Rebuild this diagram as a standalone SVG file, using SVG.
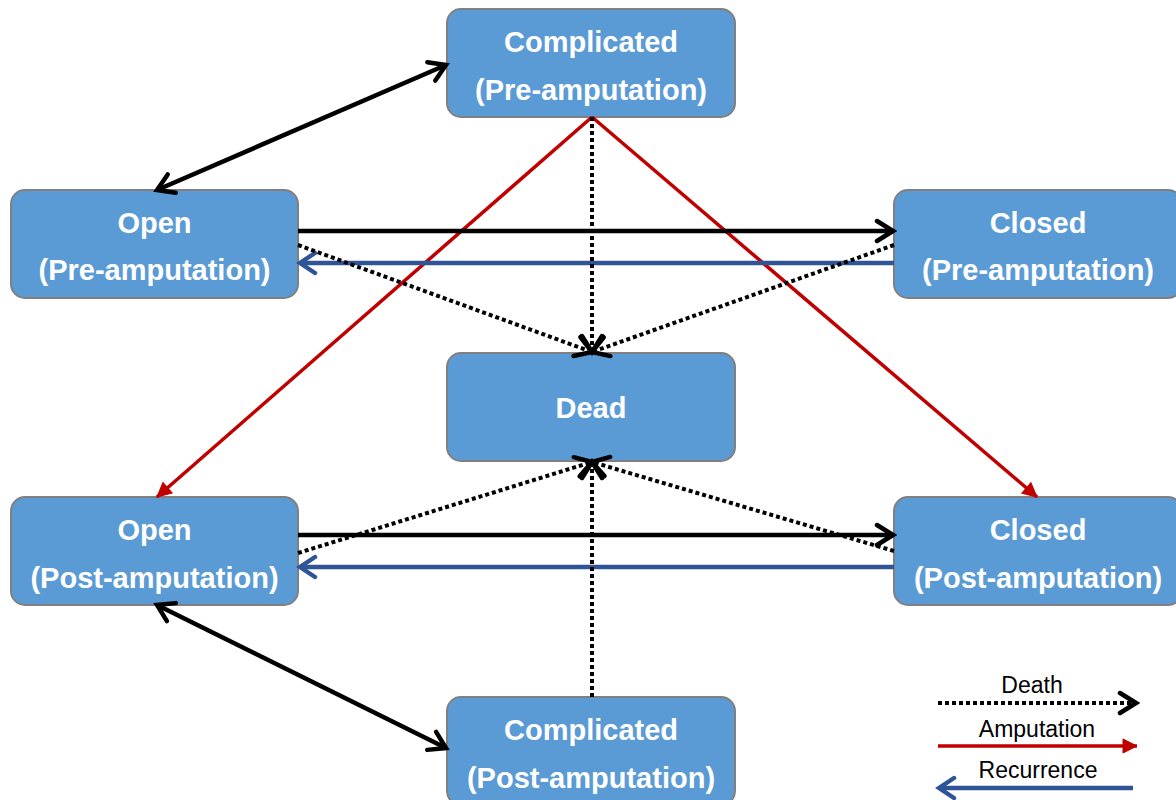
<svg xmlns="http://www.w3.org/2000/svg" width="1176" height="800" viewBox="0 0 1176 800">
  <defs>
    <style>
      .box { fill: #5B9BD5; stroke: #808080; stroke-width: 2; }
      .lbl { font-family: "Liberation Sans", Arial, sans-serif; font-weight: bold; font-size: 29px; fill: #ffffff; text-anchor: middle; }
      .leg { font-family: "Liberation Sans", Arial, sans-serif; font-size: 23px; fill: #000000; text-anchor: middle; }
      .solid { fill: none; stroke: #000000; stroke-width: 4.5; }
      .dot { fill: none; stroke: #000000; stroke-width: 4; stroke-dasharray: 4 3; }
      .amp { fill: none; stroke: #C00000; stroke-width: 3.5; }
      .rec { fill: none; stroke: #2F5597; stroke-width: 4.5; }
    </style>
    <marker id="ah-black" markerUnits="userSpaceOnUse" viewBox="0 0 26 26" markerWidth="26" markerHeight="26" refX="22" refY="13" orient="auto-start-reverse">
      <path d="M6,3 L22,13 L6,23" fill="none" stroke="#000000" stroke-width="4.5" stroke-dasharray="none" stroke-linecap="round"/>
    </marker>
    <marker id="ah-red" markerUnits="userSpaceOnUse" viewBox="0 0 26 26" markerWidth="26" markerHeight="26" refX="22" refY="13" orient="auto">
      <path d="M8,6 L22,13 L8,20 Z" fill="#C00000" stroke="#C00000" stroke-width="1"/>
    </marker>
    <marker id="ah-blue" markerUnits="userSpaceOnUse" viewBox="0 0 26 26" markerWidth="26" markerHeight="26" refX="22" refY="13" orient="auto">
      <path d="M7,3 L22,13 L7,23" fill="none" stroke="#2F5597" stroke-width="4.5" stroke-linecap="round"/>
    </marker>
  </defs>

  <rect width="1176" height="800" fill="#ffffff"/>

  <g id="node-complicated-pre">
    <rect class="box" x="447" y="9" width="288" height="108" rx="14"/>
    <text class="lbl" x="591" y="52">Complicated</text>
    <text class="lbl" x="591" y="100">(Pre-amputation)</text>
  </g>
  <g id="node-open-pre">
    <rect class="box" x="11" y="190" width="287" height="108" rx="14"/>
    <text class="lbl" x="154.5" y="233">Open</text>
    <text class="lbl" x="154.5" y="280">(Pre-amputation)</text>
  </g>
  <g id="node-closed-pre">
    <rect class="box" x="894" y="190" width="288" height="108" rx="14"/>
    <text class="lbl" x="1038" y="233">Closed</text>
    <text class="lbl" x="1038" y="280">(Pre-amputation)</text>
  </g>
  <g id="node-dead">
    <rect class="box" x="447" y="353" width="288" height="108" rx="14"/>
    <text class="lbl" x="591" y="418">Dead</text>
  </g>
  <g id="node-open-post">
    <rect class="box" x="11" y="497" width="287" height="108" rx="14"/>
    <text class="lbl" x="154.5" y="540">Open</text>
    <text class="lbl" x="154.5" y="588">(Post-amputation)</text>
  </g>
  <g id="node-closed-post">
    <rect class="box" x="894" y="497" width="288" height="108" rx="14"/>
    <text class="lbl" x="1038" y="540">Closed</text>
    <text class="lbl" x="1038" y="588">(Post-amputation)</text>
  </g>
  <g id="node-complicated-post">
    <rect class="box" x="447" y="697" width="288" height="108" rx="14"/>
    <text class="lbl" x="591" y="740">Complicated</text>
    <text class="lbl" x="591" y="788">(Post-amputation)</text>
  </g>

  <g id="connectors">
    <!-- amputation transitions -->
    <line class="amp" x1="592" y1="117" x2="157" y2="497" marker-end="url(#ah-red)"/>
    <line class="amp" x1="592" y1="117" x2="1037" y2="497" marker-end="url(#ah-red)"/>
    <!-- complicated <-> open -->
    <line class="solid" x1="157" y1="190" x2="446" y2="65" marker-start="url(#ah-black)" marker-end="url(#ah-black)"/>
    <line class="solid" x1="157" y1="605" x2="446" y2="748" marker-start="url(#ah-black)" marker-end="url(#ah-black)"/>
    <!-- open -> closed -->
    <line class="solid" x1="298" y1="231" x2="893" y2="231" marker-end="url(#ah-black)"/>
    <line class="solid" x1="298" y1="535" x2="893" y2="535" marker-end="url(#ah-black)"/>
    <!-- recurrence: closed -> open -->
    <line class="rec" x1="894" y1="263" x2="300" y2="263" marker-end="url(#ah-blue)"/>
    <line class="rec" x1="894" y1="567" x2="300" y2="567" marker-end="url(#ah-blue)"/>
    <!-- deaths -->
    <line class="dot" x1="592" y1="117" x2="592" y2="352" marker-end="url(#ah-black)"/>
    <line class="dot" x1="298" y1="245" x2="592" y2="352" marker-end="url(#ah-black)"/>
    <line class="dot" x1="894" y1="245" x2="592" y2="352" marker-end="url(#ah-black)"/>
    <line class="dot" x1="592" y1="697" x2="592" y2="462" marker-end="url(#ah-black)"/>
    <line class="dot" x1="298" y1="553" x2="592" y2="462" marker-end="url(#ah-black)"/>
    <line class="dot" x1="894" y1="551" x2="592" y2="462" marker-end="url(#ah-black)"/>
  </g>

  <g id="legend">
    <text class="leg" x="1032" y="693">Death</text>
    <line class="dot" x1="938" y1="703" x2="1136" y2="703" marker-end="url(#ah-black)"/>
    <text class="leg" x="1037" y="737">Amputation</text>
    <line class="amp" x1="938" y1="746" x2="1137" y2="746" marker-end="url(#ah-red)"/>
    <text class="leg" x="1038" y="778">Recurrence</text>
    <line class="rec" x1="1133" y1="788" x2="939" y2="788" marker-end="url(#ah-blue)"/>
  </g>
</svg>
